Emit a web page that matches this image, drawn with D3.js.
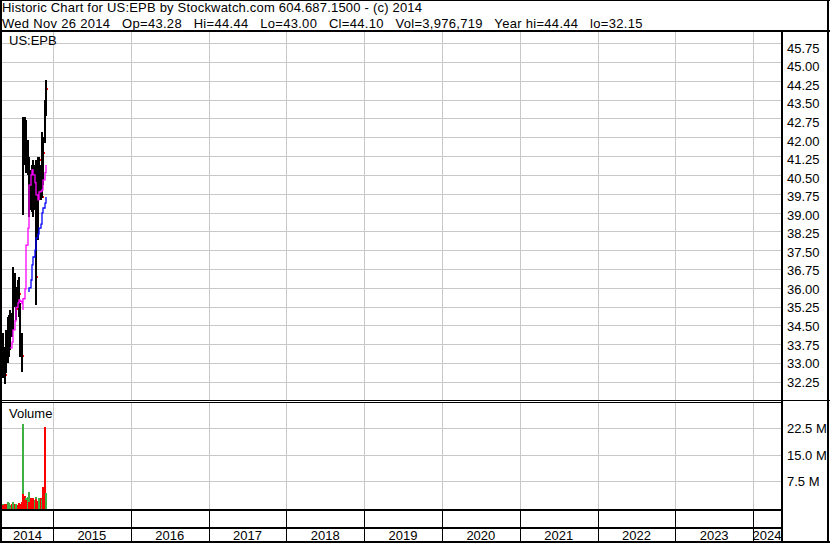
<!DOCTYPE html>
<html><head><meta charset="utf-8">
<script src="https://cdn.jsdelivr.net/npm/d3@7"></script>
<style>
html,body{margin:0;padding:0;background:#fff;}
svg{display:block;font-family:"Liberation Sans",Arial,sans-serif;}
</style></head><body>
<svg id="c" width="830" height="543"></svg>
<script>
const titleText = "Historic Chart for US:EPB by Stockwatch.com 604.687.1500 - (c) 2014";
const subtitleText = "Wed Nov 26 2014   Op=43.28   Hi=44.44   Lo=43.00   Cl=44.10   Vol=3,976,719   Year hi=44.44   lo=32.15";
const symbolText = "US:EPB";
const volumeTitle = "Volume";

const dates = ["2014-05-02","2014-05-07","2014-05-11","2014-05-16","2014-05-21","2014-05-25","2014-05-30",
  "2014-06-04","2014-06-09","2014-06-13","2014-06-18","2014-06-23","2014-06-27",
  "2014-07-02","2014-07-07","2014-07-11","2014-07-16","2014-07-21","2014-07-25","2014-07-30",
  "2014-08-04","2014-08-09","2014-08-13","2014-08-18","2014-08-23","2014-08-27",
  "2014-09-01","2014-09-06","2014-09-10","2014-09-15","2014-09-20","2014-09-24","2014-09-29",
  "2014-10-04","2014-10-09","2014-10-13","2014-10-18","2014-10-23","2014-10-27",
  "2014-11-01","2014-11-06","2014-11-10","2014-11-15","2014-11-20","2014-11-26"];
const high = [34.14,34.22,33.94,33.65,33.94,34.34,34.87,34.95,34.87,35.15,
  35.03,36.08,36.89,36.64,36.08,35.96,36.36,36.48,36.08,35.43,
  34.22,42.63,42.95,42.95,42.83,42.02,42.02,41.33,41.21,40.81,
  41.01,40.61,41.21,41.01,41.21,40.00,41.33,41.21,41.33,41.01,
  41.21,42.35,42.14,43.64,44.44];
const low = [32.64,32.72,32.40,32.15,32.60,32.72,33.00,33.25,33.53,34.06,
  34.06,34.34,35.03,35.27,34.87,34.75,35.27,35.43,34.87,33.25,
  32.64,38.99,40.61,41.01,40.81,40.69,40.61,38.91,38.99,39.19,
  39.39,39.11,38.91,39.19,39.39,35.35,37.98,39.60,39.80,39.60,
  39.68,39.72,40.20,41.90,43.00];
const close = [33.10,33.60,32.55,32.50,33.40,33.90,34.50,34.00,34.80,34.70,
  35.00,35.80,36.60,35.40,35.90,35.20,35.90,35.80,35.10,33.90,
  33.30,41.50,42.70,42.50,42.00,41.30,41.00,40.00,40.50,39.80,
  40.40,39.70,40.70,39.60,41.20,36.50,40.20,40.50,41.20,40.90,
  39.70,42.00,41.50,43.10,44.10];
const maShort = [null,null,null,null,null,null,null,null,null,
  33.61,33.85,34.14,34.34,34.70,35.03,35.25,35.43,35.50,35.55,
  35.50,35.40,35.15,35.60,36.00,36.48,37.77,38.46,38.99,40.20,
  40.61,40.75,40.81,40.61,40.30,40.00,39.80,39.60,39.70,39.92,
  39.95,40.00,40.00,40.41,40.70,41.01];
const maLong = [null,null,null,null,null,null,null,null,null,null,
  null,null,null,null,null,null,null,null,null,null,
  null,null,null,null,null,null,null,
  35.87,36.04,36.36,36.69,36.97,37.29,37.57,37.86,38.06,38.22,
  38.30,38.46,38.62,38.82,39.07,39.27,39.47,39.72];
const volumeM = [0.6,1.0,0.5,1.0,0.5,0.8,1.4,1.2,0.6,0.5,
  0.8,1.3,1.5,0.9,0.6,0.8,0.5,0.9,1.2,0.8,
  1.3,23.8,3.6,3.2,2.6,2.0,2.9,4.2,1.5,2.5,
  1.8,2.1,2.5,1.9,2.8,2.3,1.7,2.5,2.2,2.7,
  1.9,2.4,5.8,22.9,3.98];
const direction = [-1,1,-1,-1,1,-1,1,1,-1,1,
  -1,1,1,-1,1,1,-1,-1,-1,-1,
  -1,1,-1,-1,1,-1,1,1,-1,-1,
  1,-1,-1,1,1,-1,-1,1,1,-1,
  -1,1,-1,-1,1];
const priceTicks = [45.75,45.00,44.25,43.50,42.75,42.00,41.25,40.50,39.75,39.00,38.25,37.50,36.75,36.00,35.25,34.50,33.75,33.00,32.25];
const volumeTicks = [7.5,15.0,22.5];
const years = [2014,2015,2016,2017,2018,2019,2020,2021,2022,2023,2024];

const parse = d3.timeParse("%Y-%m-%d");
const bars = dates.map((d,i)=>({date:parse(d),h:high[i],l:low[i],c:close[i],m1:maShort[i],m2:maLong[i],v:volumeM[i],dir:direction[i]}));

const svg = d3.select("#c");
const FONT = '"Liberation Sans",Arial,sans-serif';
const CL = 2, CR = 781;
const PT = 32, PB = 400;
const VT = 403, VB = 509;

const x = d3.scaleTime().domain([new Date(2015,0,1), new Date(2024,0,1)]).range([53, 753]);
const yPrice = d3.scaleLinear().domain([32.25, 45.75]).range([381.6, 47.8]);
const yGrid = d3.scaleLinear().domain([32.25, 45.75]).range([381.7, 43.3]);
const yVol = d3.scaleLinear().domain([0, 22.5]).range([507, 428.3]);

const grid = "#c8c8c8";
const boundaries = years.slice(1).map(y => new Date(y,0,1));
const px = v => Math.round(v) + 0.5;

const g = svg.append("g").attr("shape-rendering","crispEdges");
g.selectAll(".pv").data(boundaries).join("line")
  .attr("x1",d=>px(x(d))).attr("x2",d=>px(x(d))).attr("y1",PT).attr("y2",PB)
  .attr("stroke",grid);
g.selectAll(".ph").data(priceTicks).join("line")
  .attr("x1",CL).attr("x2",CR).attr("y1",d=>px(yGrid(d))).attr("y2",d=>px(yGrid(d)))
  .attr("stroke",grid);
g.selectAll(".vv").data(boundaries).join("line")
  .attr("x1",d=>px(x(d))).attr("x2",d=>px(x(d))).attr("y1",VT).attr("y2",VB)
  .attr("stroke",grid);
g.selectAll(".vh").data(volumeTicks).join("line")
  .attr("x1",CL).attr("x2",CR).attr("y1",d=>px(yVol(d))).attr("y2",d=>px(yVol(d)))
  .attr("stroke",grid);

const pb = svg.append("g").attr("shape-rendering","crispEdges");
const bg = pb.selectAll("g").data(bars).join("g");
bg.append("rect")
  .attr("x",d=>Math.floor(x(d.date))).attr("width",2)
  .attr("y",d=>Math.round(yPrice(d.h))).attr("height",d=>Math.max(1,Math.round(yPrice(d.l))-Math.round(yPrice(d.h))))
  .attr("fill","#000");
bg.append("rect")
  .attr("x",d=>Math.floor(x(d.date))+2).attr("width",1)
  .attr("y",d=>Math.round(yPrice(d.c))-1).attr("height",2)
  .attr("fill","#ff0000");

const lineShort = d3.line().defined(d=>d.m1!=null).x(d=>Math.floor(x(d.date))+1).y(d=>yPrice(d.m1)).curve(d3.curveStepAfter);
const lineLong = d3.line().defined(d=>d.m2!=null).x(d=>Math.floor(x(d.date))+1).y(d=>yPrice(d.m2)).curve(d3.curveStepAfter);
svg.append("path").datum(bars).attr("d",lineShort).attr("fill","none").attr("stroke","#ff00ff").attr("stroke-width",1.3);
svg.append("path").datum(bars).attr("d",lineLong).attr("fill","none").attr("stroke","#0000ff").attr("stroke-width",1.3);

svg.append("g").attr("shape-rendering","crispEdges").selectAll("rect").data(bars).join("rect")
  .attr("x",d=>Math.floor(x(d.date))).attr("width",1.5)
  .attr("y",d=>Math.round(yVol(d.v))).attr("height",d=>VB-Math.round(yVol(d.v)))
  .attr("fill",d=>d.dir>0?"#3cb043":"#ff0000");

const f = svg.append("g").attr("shape-rendering","crispEdges").attr("fill","#000");
f.append("rect").attr("x",0).attr("y",0).attr("width",830).attr("height",1);
f.append("rect").attr("x",0).attr("y",0).attr("width",2).attr("height",543);
f.append("rect").attr("x",0).attr("y",30).attr("width",830).attr("height",2);
f.append("rect").attr("x",CR).attr("y",30).attr("width",2).attr("height",513);
f.append("rect").attr("x",827).attr("y",0).attr("width",2).attr("height",543);
f.append("rect").attr("x",0).attr("y",400).attr("width",CR).attr("height",1);
f.append("rect").attr("x",0).attr("y",402).attr("width",CR).attr("height",1);
f.append("rect").attr("x",CR).attr("y",400).attr("width",830-CR).attr("height",1);
f.append("rect").attr("x",0).attr("y",509).attr("width",CR).attr("height",2);
f.append("rect").attr("x",0).attr("y",527).attr("width",CR).attr("height",2);
f.append("rect").attr("x",0).attr("y",541).attr("width",830).attr("height",2);
f.selectAll(".ys").data(boundaries).join("rect")
  .attr("x",d=>Math.round(x(d))).attr("y",511).attr("width",1).attr("height",30);

const T = svg.append("g").attr("font-family",FONT).attr("font-size",13).attr("fill","#000");
T.append("text").attr("x",2).attr("y",12).attr("style","white-space:pre")
  .attr("textLength",420).attr("lengthAdjust","spacing").text(titleText);
T.append("text").attr("x",2).attr("y",27.5).attr("style","white-space:pre")
  .attr("letter-spacing",0.3).text(subtitleText);
T.append("text").attr("x",9).attr("y",45).text(symbolText);
T.append("text").attr("x",9).attr("y",417.5).text(volumeTitle);

T.selectAll(".yl").data(years).join("text")
  .attr("x",y=>{const a=Math.max(CL,x(new Date(y,0,1))), b=Math.min(CR,x(new Date(y+1,0,1))); return (a+b)/2;})
  .attr("y",540).attr("text-anchor","middle").text(y=>String(y));

const pAxis = d3.axisRight(yPrice).tickValues(priceTicks).tickFormat(d3.format(".2f")).tickSize(0).tickPadding(0);
const pa = svg.append("g").attr("transform","translate(787,0)").call(pAxis);
pa.select(".domain").remove();
pa.attr("font-family",FONT).attr("font-size",13).attr("color","#000");
pa.selectAll("text").attr("dy","0.35em");

const vAxis = d3.axisRight(yVol).tickValues(volumeTicks).tickFormat(d=>d.toFixed(1)+" M").tickSize(0).tickPadding(0);
const va = svg.append("g").attr("transform","translate(787,0)").call(vAxis);
va.select(".domain").remove();
va.attr("font-family",FONT).attr("font-size",13).attr("color","#000");
va.selectAll("text").attr("dy","0.35em");
</script>
</body></html>
